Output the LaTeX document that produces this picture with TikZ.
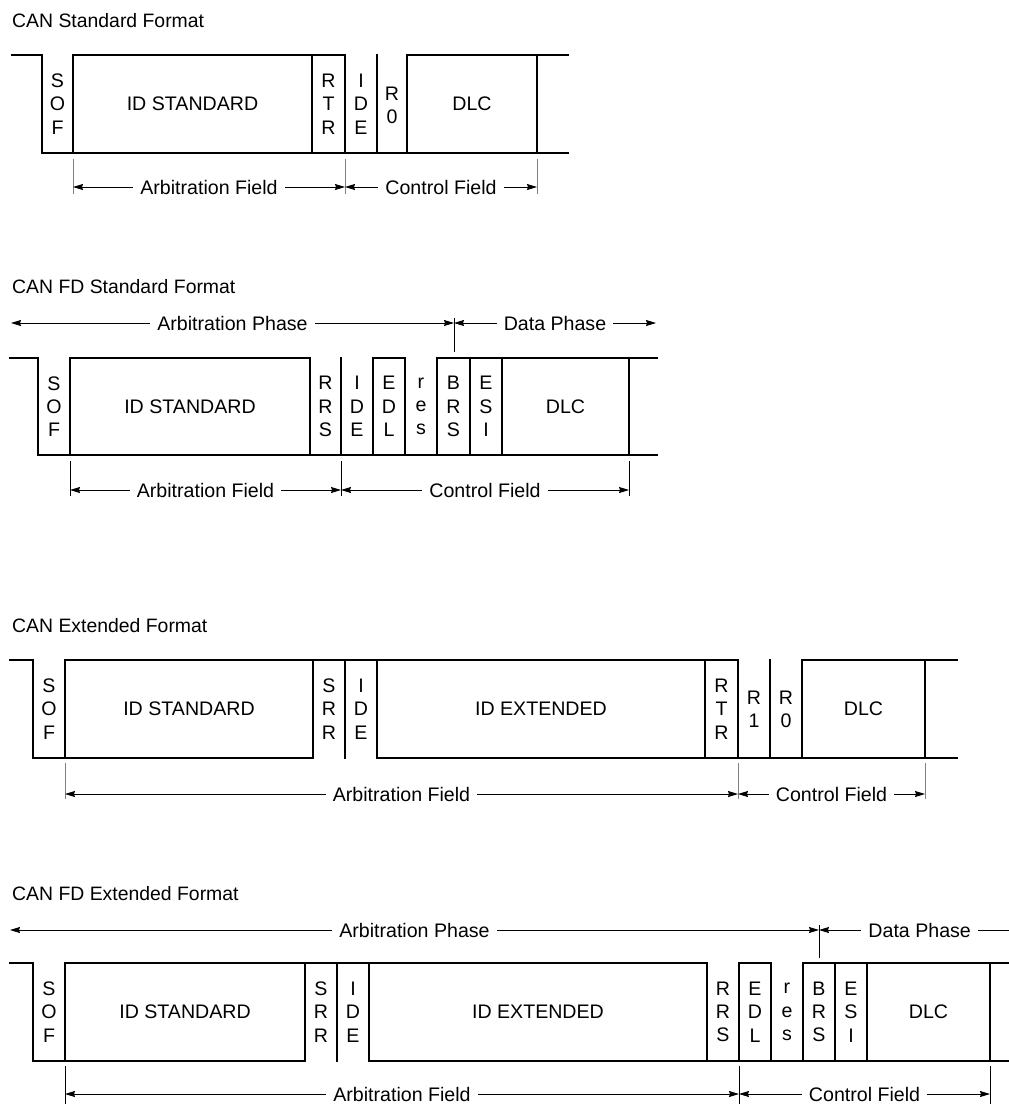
\documentclass[tikz,border=0pt]{standalone}
\usepackage{fontspec}
\setmainfont{Liberation Sans}
\usetikzlibrary{arrows.meta}

\begin{document}
\begin{tikzpicture}[x=1pt,y=-1pt,>={Stealth[length=10pt,width=6pt,inset=1pt]},
  wave/.style={line width=2.6pt,line cap=rect,line join=miter},
  bit/.style={font=\fontsize{19.6}{23.3}\selectfont,align=center,inner sep=0pt},
  lbl/.style={font=\fontsize{19.6}{23}\selectfont,fill=white,inner xsep=7pt,inner ysep=0pt},
  dim/.style={<->,line width=0.9pt},
  ext/.style={line width=0.9pt,gray},
  ttl/.style={font=\fontsize{19.4}{22}\selectfont,anchor=west,inner sep=0pt}]
\useasboundingbox (0,0) rectangle (1009,1104);

\node[ttl] (t1) at (12,21) {CAN Standard Format};
\draw[wave] (12,55) -- (42,55) -- (42,153) -- (568,153);
\draw[wave] (73,153) -- (73,55) -- (345,55) -- (345,153);
\draw[wave] (407,153) -- (407,55) -- (568,55);
\foreach \x in {312,377,537} \draw[wave] (\x,55) -- (\x,153);
\node[bit] (sof1) at (57.5,104) {S\\O\\F};
\node[bit] (id1) at (192.5,104) {ID STANDARD};
\node[bit] (rtr1) at (328.5,104) {R\\T\\R};
\node[bit] (ide1) at (361,104) {I\\D\\E};
\node[bit] (r01) at (392,105) {R\\0};
\node[bit] (dlc1) at (472,104) {DLC};
\foreach \x in {73,345,537} \draw[ext] (\x,159) -- (\x,194);
\coordinate (a1) at (73,187);
\coordinate (b1) at (345,187);
\coordinate (c1) at (537,187);
\draw[dim] (a1) -- node[lbl]{Arbitration Field} (b1);
\draw[dim] (b1) -- node[lbl]{Control Field} (c1);

\node[ttl] (t2) at (12,287) {CAN FD Standard Format};
\coordinate (pa2) at (11,323);
\coordinate (pb2) at (454,323);
\coordinate (pc2) at (656,323);
\draw[dim] (pa2) -- node[lbl]{Arbitration Phase} (pb2);
\draw[dim] (pb2) -- node[lbl]{Data Phase} (pc2);
\draw[line width=0.9pt] (454,318) -- (454,352);
\draw[wave] (10,358) -- (38,358) -- (38,455) -- (657,455);
\draw[wave] (70,455) -- (70,358) -- (310,358) -- (310,455);
\draw[wave] (373,455) -- (373,358) -- (405,358) -- (405,455);
\draw[wave] (437,455) -- (437,358) -- (657,358);
\foreach \x in {341,470,502,629} \draw[wave] (\x,358) -- (\x,455);
\node[bit] (sof2) at (54,406.5) {S\\O\\F};
\node[bit] (id2) at (190,406.5) {ID STANDARD};
\node[bit] (rrs2) at (325.5,406.5) {R\\R\\S};
\node[bit] (ide2) at (357,406.5) {I\\D\\E};
\node[bit] (edl2) at (389,406.5) {E\\D\\L};
\node[bit] (res2) at (421,406.5) {r\\e\\s};
\node[bit] (brs2) at (453.5,406.5) {B\\R\\S};
\node[bit] (esi2) at (486,406.5) {E\\S\\I};
\node[bit] (dlc2) at (565.5,406.5) {DLC};
\foreach \x in {70,341,629} \draw[ext,black] (\x,461) -- (\x,496);
\coordinate (a2) at (70,490);
\coordinate (b2) at (341,490);
\coordinate (c2) at (629,490);
\draw[dim] (a2) -- node[lbl]{Arbitration Field} (b2);
\draw[dim] (b2) -- node[lbl]{Control Field} (c2);

\node[ttl] (t3) at (12,626) {CAN Extended Format};
\draw[wave] (10,660) -- (33,660) -- (33,758) -- (313,758) -- (313,660);
\draw[wave] (65,758) -- (65,660) -- (738,660) -- (738,758);
\draw[wave] (377,660) -- (377,758) -- (957,758);
\draw[wave] (802,758) -- (802,660) -- (957,660);
\foreach \x in {345,705,770,925} \draw[wave] (\x,660) -- (\x,758);
\node[bit] (sof3) at (49,709) {S\\O\\F};
\node[bit] (id3) at (189,709) {ID STANDARD};
\node[bit] (srr3) at (329,709) {S\\R\\R};
\node[bit] (ide3) at (361,709) {I\\D\\E};
\node[bit] (ext3) at (541,709) {ID EXTENDED};
\node[bit] (rtr3) at (721.5,709) {R\\T\\R};
\node[bit] (r13) at (754,709) {R\\1};
\node[bit] (r03) at (786,709) {R\\0};
\node[bit] (dlc3) at (863.5,709) {DLC};
\foreach \x in {65,738,925} \draw[ext] (\x,763) -- (\x,799);
\coordinate (a3) at (65,794);
\coordinate (b3) at (738,794);
\coordinate (c3) at (925,794);
\draw[dim] (a3) -- node[lbl]{Arbitration Field} (b3);
\draw[dim] (b3) -- node[lbl]{Control Field} (c3);

\node[ttl] (t4) at (12,894) {CAN FD Extended Format};
\coordinate (pa4) at (10,930);
\coordinate (pb4) at (819,930);
\coordinate (pc4) at (1009,930);
\draw[dim] (pa4) -- node[lbl]{Arbitration Phase} (pb4);
\draw[<-,line width=0.9pt] (pb4) -- node[lbl,pos=0.53]{Data Phase} (pc4);
\draw[line width=0.9pt] (819,925) -- (819,958);
\draw[wave] (10,963) -- (33,963) -- (33,1061) -- (305,1061) -- (305,963);
\draw[wave] (65,1061) -- (65,963) -- (707,963) -- (707,1061);
\draw[wave] (369,963) -- (369,1061) -- (1009,1061);
\draw[wave] (739,1061) -- (739,963) -- (771,963) -- (771,1061);
\draw[wave] (803,1061) -- (803,963) -- (1009,963);
\foreach \x in {337,835,867,990} \draw[wave] (\x,963) -- (\x,1061);
\node[bit] (sof4) at (49,1012) {S\\O\\F};
\node[bit] (id4) at (185,1012) {ID STANDARD};
\node[bit] (srr4) at (321,1012) {S\\R\\R};
\node[bit] (ide4) at (353,1012) {I\\D\\E};
\node[bit] (ext4) at (538,1012) {ID EXTENDED};
\node[bit] (rrs4) at (723,1012) {R\\R\\S};
\node[bit] (edl4) at (755,1012) {E\\D\\L};
\node[bit] (res4) at (787,1012) {r\\e\\s};
\node[bit] (brs4) at (819,1012) {B\\R\\S};
\node[bit] (esi4) at (851,1012) {E\\S\\I};
\node[bit] (dlc4) at (928.5,1012) {DLC};
\foreach \x in {65,739,990} \draw[ext,black] (\x,1066) -- (\x,1104);
\coordinate (a4) at (65,1094);
\coordinate (b4) at (739,1094);
\coordinate (c4) at (990,1094);
\draw[dim] (a4) -- node[lbl]{Arbitration Field} (b4);
\draw[dim] (b4) -- node[lbl]{Control Field} (c4);
\end{tikzpicture}
\end{document}
